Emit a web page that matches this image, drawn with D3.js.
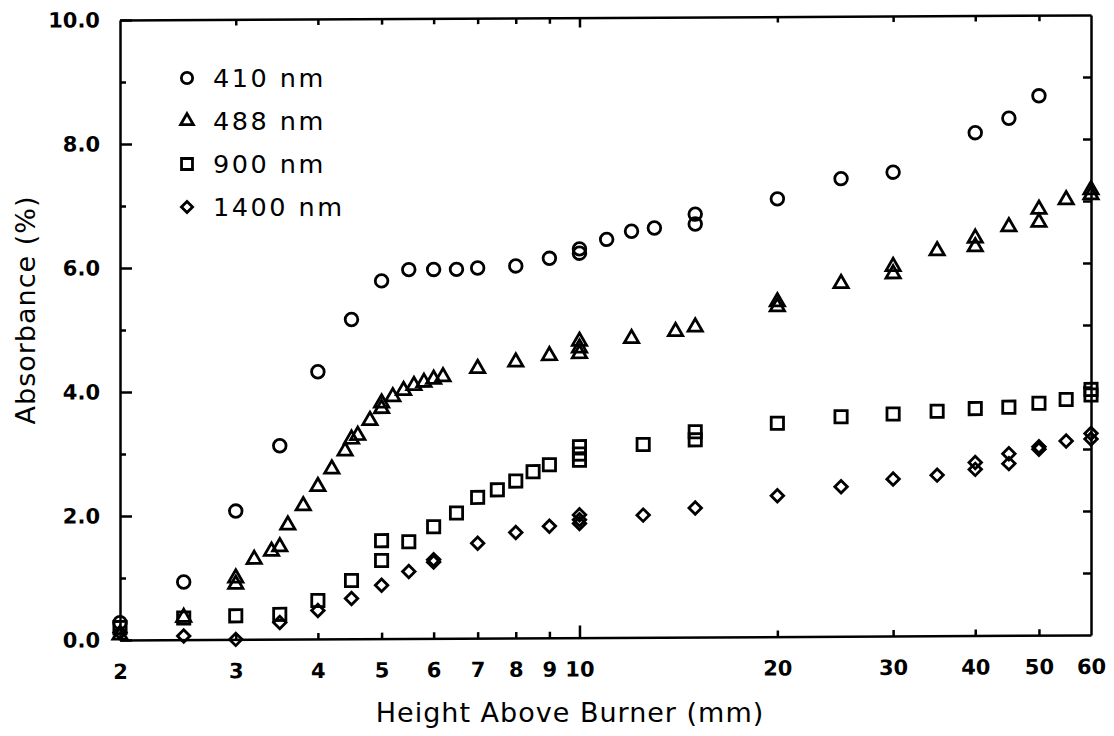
<!DOCTYPE html>
<html>
<head>
<meta charset="utf-8">
<script src="https://cdn.jsdelivr.net/npm/d3@7"></script>
<style>
  html, body { margin: 0; padding: 0; background: #fff; }
  svg { display: block; }
  .tick text { font-family: "DejaVu Sans", sans-serif; font-weight: bold; font-size: 21px; fill: #000; }
  .axis path, .axis line { stroke: #000; stroke-width: 2.5px; }
  .lbl { font-family: "DejaVu Sans", sans-serif; fill: #000; }
</style>
</head>
<body>
<svg id="chart" width="1114" height="736"></svg>
<script>
// Height above burner (mm) and absorbance (%) for each wavelength
const h410 = [2, 2.5, 3, 3.5, 4, 4.5, 5, 5.5, 6, 6.5, 7, 8, 9, 10, 10, 11, 12, 13, 15, 15, 20, 25, 30, 40, 45, 50];
const a410 = [0.28, 0.93, 2.07, 3.12, 4.31, 5.15, 5.77, 5.95, 5.95, 5.95, 5.97, 6.0, 6.12, 6.2, 6.27, 6.42, 6.55, 6.6, 6.82, 6.66, 7.06, 7.38, 7.48, 8.11, 8.34, 8.7];

const h488 = [2, 2.5, 3, 3, 3.2, 3.4, 3.5, 3.6, 3.8, 4, 4.2, 4.4, 4.5, 4.6, 4.8, 5, 5, 5.2, 5.4, 5.6, 5.8, 6, 6.2, 7, 8, 9, 10, 10, 10, 12, 14, 15, 20, 20, 25, 30, 30, 35, 40, 40, 45, 50, 50, 55, 60, 60];
const a488 = [0.08, 0.36, 0.99, 0.89, 1.29, 1.42, 1.49, 1.84, 2.15, 2.46, 2.74, 3.03, 3.22, 3.28, 3.52, 3.8, 3.71, 3.9, 4.0, 4.08, 4.13, 4.18, 4.22, 4.35, 4.45, 4.55, 4.78, 4.67, 4.58, 4.82, 4.93, 5.0, 5.4, 5.32, 5.69, 5.96, 5.84, 6.21, 6.41, 6.27, 6.59, 6.87, 6.66, 7.02, 7.18, 7.1];

const h900 = [2, 2.5, 3, 3.5, 4, 4.5, 5, 5, 5.5, 6, 6.5, 7, 7.5, 8, 8.5, 9, 10, 10, 10, 12.5, 15, 15, 20, 25, 30, 35, 40, 45, 50, 55, 60, 60];
const a900 = [0.2, 0.35, 0.38, 0.4, 0.62, 0.94, 1.26, 1.58, 1.56, 1.8, 2.02, 2.27, 2.39, 2.53, 2.68, 2.79, 3.08, 2.96, 2.86, 3.11, 3.31, 3.18, 3.44, 3.54, 3.58, 3.62, 3.66, 3.68, 3.74, 3.8, 3.87, 3.96];

const h1400 = [2, 2.5, 3, 3.5, 4, 4.5, 5, 5.5, 6, 6, 7, 8, 9, 10, 10, 10, 12.5, 15, 20, 25, 30, 35, 40, 40, 45, 45, 50, 50, 55, 60, 60];
const a1400 = [0.12, 0.06, 0.0, 0.27, 0.46, 0.65, 0.86, 1.08, 1.23, 1.27, 1.53, 1.7, 1.8, 1.98, 1.9, 1.84, 1.97, 2.08, 2.27, 2.41, 2.53, 2.59, 2.79, 2.68, 2.93, 2.77, 3.0, 3.04, 3.13, 3.25, 3.16];

const seriesNames = ["410 nm", "488 nm", "900 nm", "1400 nm"];
const xTickValues = [2, 3, 4, 5, 6, 7, 8, 9, 10, 20, 30, 40, 50, 60];
const yTickValues = [0, 2, 4, 6, 8, 10];
const yMinorValues = [1, 3, 5, 7, 9];

const svg = d3.select("#chart");
const plotLeft = 120, plotRight = 1091, plotTop = 20, plotBottom = 640;

const x = d3.scaleLog().domain([2, 60]).range([plotLeft, plotRight]);
const y = d3.scaleLinear().domain([0, 10]).range([plotBottom, plotTop]);

// slight skew of the whole frame (right side sits a few pixels higher)
const g = svg.append("g")
  .attr("transform", `translate(${plotLeft},0) skewY(-0.3) translate(${-plotLeft},0)`);

// axes
const xAxis = g.append("g").attr("class", "axis")
  .attr("transform", `translate(0,${plotBottom})`)
  .call(d3.axisBottom(x).tickValues(xTickValues).tickSize(-6).tickSizeOuter(0)
    .tickPadding(24).tickFormat(d3.format("d")));
xAxis.selectAll(".tick").filter(d => d === 10).select("line").attr("y2", -12);
xAxis.selectAll(".tick").filter(d => d === 2 || d === 60).select("line").remove();

const xTop = g.append("g").attr("class", "axis")
  .attr("transform", `translate(0,${plotTop})`)
  .call(d3.axisTop(x).tickValues(xTickValues).tickSize(-6).tickSizeOuter(0).tickFormat(""));
xTop.selectAll(".tick").filter(d => d === 10).select("line").attr("y2", 10);
xTop.selectAll(".tick").filter(d => d === 2 || d === 60).select("line").remove();

g.append("g").attr("class", "axis")
  .attr("transform", `translate(${plotLeft},0)`)
  .call(d3.axisLeft(y).tickValues(yTickValues).tickSize(-12).tickSizeOuter(0)
    .tickPadding(20).tickFormat(d3.format(".1f")));
g.append("g").attr("class", "axis")
  .attr("transform", `translate(${plotLeft},0)`)
  .call(d3.axisLeft(y).tickValues(yMinorValues).tickSize(-6).tickSizeOuter(0).tickFormat(""))
  .select(".domain").remove();

g.append("g").attr("class", "axis")
  .attr("transform", `translate(${plotRight},0)`)
  .call(d3.axisRight(y).tickValues(d3.range(1, 10)).tickSize(-8).tickSizeOuter(0).tickFormat(""));

// markers
const shapes = [
  { type: d3.symbolCircle, size: 125, rot: 0 },
  { type: d3.symbolTriangle, size: 88, rot: 0 },
  { type: d3.symbolSquare, size: 150, rot: 0 },
  { type: d3.symbolSquare, size: 78, rot: 45 }
];
const seriesData = [
  d3.zip(h410, a410), d3.zip(h488, a488), d3.zip(h900, a900), d3.zip(h1400, a1400)
];

seriesData.forEach((pts, i) => {
  const s = shapes[i];
  const sym = d3.symbol().type(s.type).size(s.size);
  g.append("g").selectAll("path").data(pts).join("path")
    .attr("d", sym)
    .attr("transform", d => `translate(${x(d[0])},${y(d[1])}) rotate(${s.rot})`)
    .attr("fill", "none").attr("stroke", "#000").attr("stroke-width", 2.8);
});

// legend
const legend = svg.append("g");
seriesNames.forEach((name, i) => {
  const s = shapes[i];
  const cy = 78 + i * 43;
  legend.append("path")
    .attr("d", d3.symbol().type(s.type).size(s.size * 0.8)())
    .attr("transform", `translate(187,${cy}) rotate(${s.rot})`)
    .attr("fill", "none").attr("stroke", "#000").attr("stroke-width", 2.8);
  legend.append("text").attr("class", "lbl")
    .attr("x", 213).attr("y", cy + 9)
    .attr("font-size", 25.5).attr("letter-spacing", 2.5)
    .text(name);
});

// axis titles
svg.append("text").attr("class", "lbl")
  .attr("x", 570).attr("y", 722)
  .attr("text-anchor", "middle").attr("font-size", 27).attr("letter-spacing", 1)
  .text("Height Above Burner (mm)");

svg.append("text").attr("class", "lbl")
  .attr("transform", "translate(35,310) rotate(-90)")
  .attr("text-anchor", "middle").attr("font-size", 27).attr("letter-spacing", 1)
  .text("Absorbance (%)");
</script>
</body>
</html>
